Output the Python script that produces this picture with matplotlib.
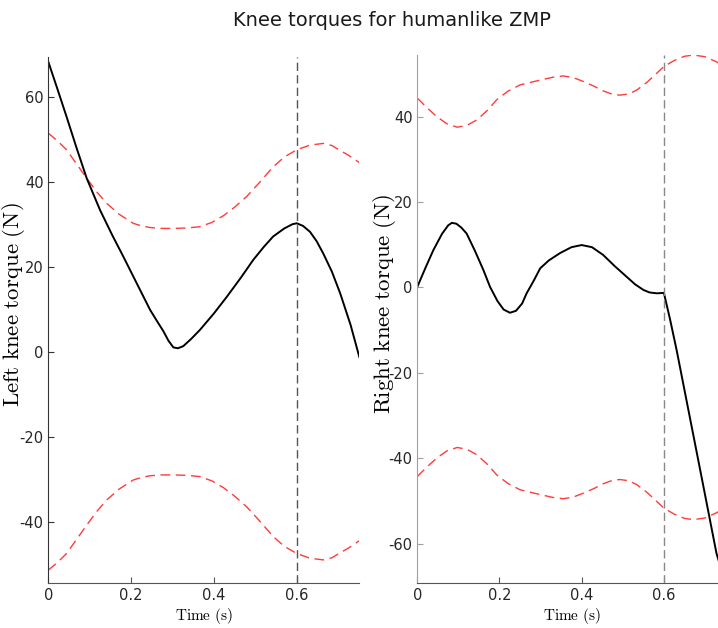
import matplotlib
matplotlib.use("Agg")
import matplotlib.pyplot as plt

plt.rcParams['mathtext.fontset'] = 'cm'

# ---- data ----
left_t = [0, 0.022, 0.044, 0.068, 0.0927, 0.125, 0.155, 0.181, 0.215, 0.246,
          0.265, 0.278, 0.29, 0.302, 0.313, 0.326, 0.345, 0.366, 0.40, 0.431,
          0.465, 0.495, 0.52, 0.543, 0.57, 0.59, 0.6, 0.615, 0.632, 0.648,
          0.664, 0.685, 0.705, 0.73, 0.751]
left_torque = [68.2, 61.8, 55.3, 48.0, 40.8, 33.3, 27.3, 22.4, 15.8, 9.8,
               6.8, 4.8, 2.6, 1.0, 0.8, 1.3, 3.0, 5.1, 9.0, 12.9,
               17.4, 21.6, 24.6, 27.1, 29.0, 30.0, 30.2, 29.6, 28.2, 26.0,
               23.1, 18.8, 13.7, 6.3, -1.2]

left_bound_t = [0, 0.022, 0.044, 0.068, 0.0927, 0.117, 0.141, 0.17, 0.205,
                0.225, 0.246, 0.275, 0.302, 0.335, 0.366, 0.395, 0.423, 0.45,
                0.479, 0.51, 0.543, 0.57, 0.6, 0.632, 0.664, 0.685, 0.70,
                0.725, 0.751]
left_bound = [51.4, 49.6, 47.5, 44.2, 40.8, 37.6, 34.9, 32.4, 30.2,
              29.6, 29.2, 29.0, 29.0, 29.1, 29.4, 30.4, 32.0, 34.0,
              36.5, 39.8, 43.5, 45.8, 47.5, 48.6, 49.0, 48.5, 47.6,
              46.2, 44.5]

right_t = [0, 0.02, 0.039, 0.06, 0.075, 0.084, 0.095, 0.107, 0.12, 0.14,
           0.161, 0.177, 0.195, 0.21, 0.2255, 0.24, 0.255, 0.266, 0.283, 0.299,
           0.32, 0.347, 0.375, 0.40, 0.425, 0.452, 0.48, 0.509, 0.53, 0.55,
           0.565, 0.583, 0.6, 0.615, 0.631, 0.66, 0.69, 0.728, 0.75]
right_torque = [0.1, 4.6, 8.7, 12.5, 14.5, 15.1, 14.9, 14.0, 12.6, 8.6,
                4.0, 0.1, -3.2, -5.2, -5.95, -5.5, -3.8, -1.4, 1.5, 4.45,
                6.3, 8.0, 9.4, 9.9, 9.4, 7.6, 5.0, 2.5, 0.7, -0.6,
                -1.2, -1.4, -1.3, -7.5, -14.7, -28.9, -43.6, -62.3, -69.3]

right_bound_t = [0, 0.023, 0.047, 0.072, 0.097, 0.12, 0.145, 0.17, 0.193,
                 0.22, 0.25, 0.28, 0.307, 0.33, 0.355, 0.38, 0.404, 0.43,
                 0.452, 0.475, 0.493, 0.515, 0.534, 0.56, 0.58, 0.6, 0.625,
                 0.65, 0.672, 0.70, 0.728, 0.75]
right_bound = [44.3, 42.1, 40.0, 38.3, 37.5, 37.9, 39.2, 41.4, 43.9,
               45.9, 47.4, 48.1, 48.7, 49.2, 49.5, 49.1, 48.2, 47.1,
               46.0, 45.2, 45.0, 45.3, 46.2, 48.1, 49.9, 51.7, 53.1,
               54.1, 54.4, 54.0, 52.8, 51.5]

switch_time = 0.6
left_yticks = [-40, -20, 0, 20, 40, 60]
right_yticks = [-60, -40, -20, 0, 20, 40]
xticks = [0, 0.2, 0.4, 0.6]

fig = plt.figure(figsize=(7.18, 6.28), dpi=100)
axL = fig.add_axes([0.0673, 0.0712, 0.4325, 0.8385])
axR = fig.add_axes([0.5812, 0.0712, 0.4293, 0.8412])

red = '#ff3b3b'
rdash = (7, 4)

def style(ax, ycol, xcol):
    for s in ['top', 'right']:
        ax.spines[s].set_visible(False)
    ax.spines['left'].set_color(ycol)
    ax.spines['bottom'].set_color(xcol)
    ax.tick_params(direction='in', length=4, labelsize=10.5, colors='#262626')
    ax.tick_params(axis='y', color=ycol)
    ax.tick_params(axis='x', color=xcol)
    ax.set_xticks(xticks)
    ax.set_xticklabels(['0', '0.2', '0.4', '0.6'])
    ax.set_xlim(0, 0.75)
    ax.set_xlabel(r'$\mathrm{Time\ (s)}$', fontsize=11, labelpad=2)

# left
axL.plot(left_bound_t, left_bound, '--', color=red, lw=1.0, dashes=rdash)
axL.plot(left_bound_t, [-v for v in left_bound], '--', color=red, lw=1.0, dashes=rdash)
axL.plot(left_t, left_torque, color='black', lw=1.4)
axL.axvline(switch_time, color='#555555', ls='--', lw=1.0, dashes=(6, 3))
axL.set_ylim(-54.5, 69.4)
axL.set_yticks(left_yticks)
axL.set_yticklabels([str(v) for v in left_yticks])
style(axL, '#333333', '#555555')
axL.set_ylabel(r'$\mathrm{Left\ knee\ torque\ (N)}$', fontsize=16.5)
axL.yaxis.set_label_coords(-0.068, 0.53)

# right
axR.plot(right_bound_t, right_bound, '--', color=red, lw=1.0, dashes=rdash)
axR.plot(right_bound_t, [-v for v in right_bound], '--', color=red, lw=1.0, dashes=rdash)
axR.plot(right_t, right_torque, color='black', lw=1.4)
axR.axvline(switch_time, color='#888888', ls='--', lw=1.0, dashes=(6, 3))
axR.set_ylim(-69.3, 54.4)
axR.set_yticks(right_yticks)
axR.set_yticklabels([str(v) for v in right_yticks])
style(axR, '#a0a0a0', '#555555')
axR.set_ylabel(r'$\mathrm{Right\ knee\ torque\ (N)}$', fontsize=16.5)
axR.yaxis.set_label_coords(-0.062, 0.53)

fig.text(0.546, 0.967, 'Knee torques for humanlike ZMP', ha='center', va='center',
         fontsize=14, color='#1a1a1a')

fig.savefig('out.png', dpi=100)
